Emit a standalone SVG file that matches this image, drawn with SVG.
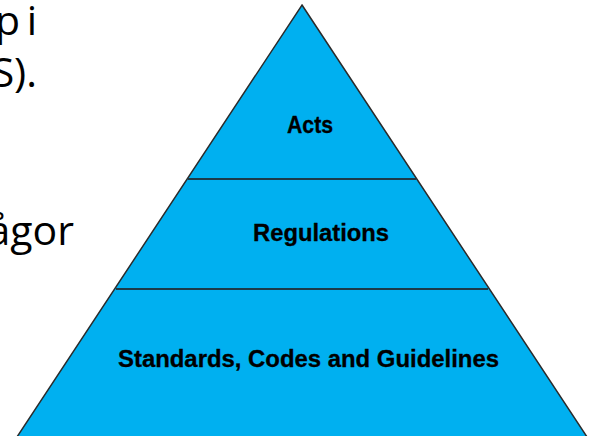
<svg xmlns="http://www.w3.org/2000/svg" width="594" height="436" viewBox="0 0 594 436">
  <style>
    .side { font-family: "Open Sans", "Noto Sans", "Liberation Sans", sans-serif; font-size: 41px; fill: #000; }
    .tier { font-family: "Liberation Sans", Arial, sans-serif; font-size: 23px; font-weight: bold; fill: #000; stroke: #000; stroke-width: 0.3; }
    .edge { fill: #00B0F0; stroke: #2b2b2b; stroke-width: 1.5; stroke-linejoin: miter; }
    .divider { stroke: #1c3a48; stroke-width: 1.8; fill: none; }
  </style>
  <rect x="0" y="0" width="594" height="436" fill="#ffffff"/>

  <!-- body text running in from the left -->
  <g id="side-text">
    <text class="side" x="37" y="35" text-anchor="end" word-spacing="-4">p i</text>
    <text class="side" x="37" y="87" text-anchor="end">S).</text>
    <text class="side" x="74" y="245" text-anchor="end">ågor</text>
  </g>

  <!-- pyramid outline -->
  <g id="pyramid">
    <polygon class="edge" points="302,5 593,446 11,446"/>
  </g>

  <!-- tier dividers -->
  <g id="connectors">
    <line class="divider" x1="188" y1="179" x2="416" y2="179"/>
    <line class="divider" x1="116" y1="289" x2="488" y2="289"/>
  </g>

  <g id="tier-acts">
    <text class="tier" x="287" y="133" textLength="46" lengthAdjust="spacingAndGlyphs">Acts</text>
  </g>
  <g id="tier-regulations">
    <text class="tier" x="253" y="241" textLength="136" lengthAdjust="spacingAndGlyphs">Regulations</text>
  </g>
  <g id="tier-standards">
    <text class="tier" x="118" y="367" textLength="381" lengthAdjust="spacingAndGlyphs">Standards, Codes and Guidelines</text>
  </g>
</svg>
